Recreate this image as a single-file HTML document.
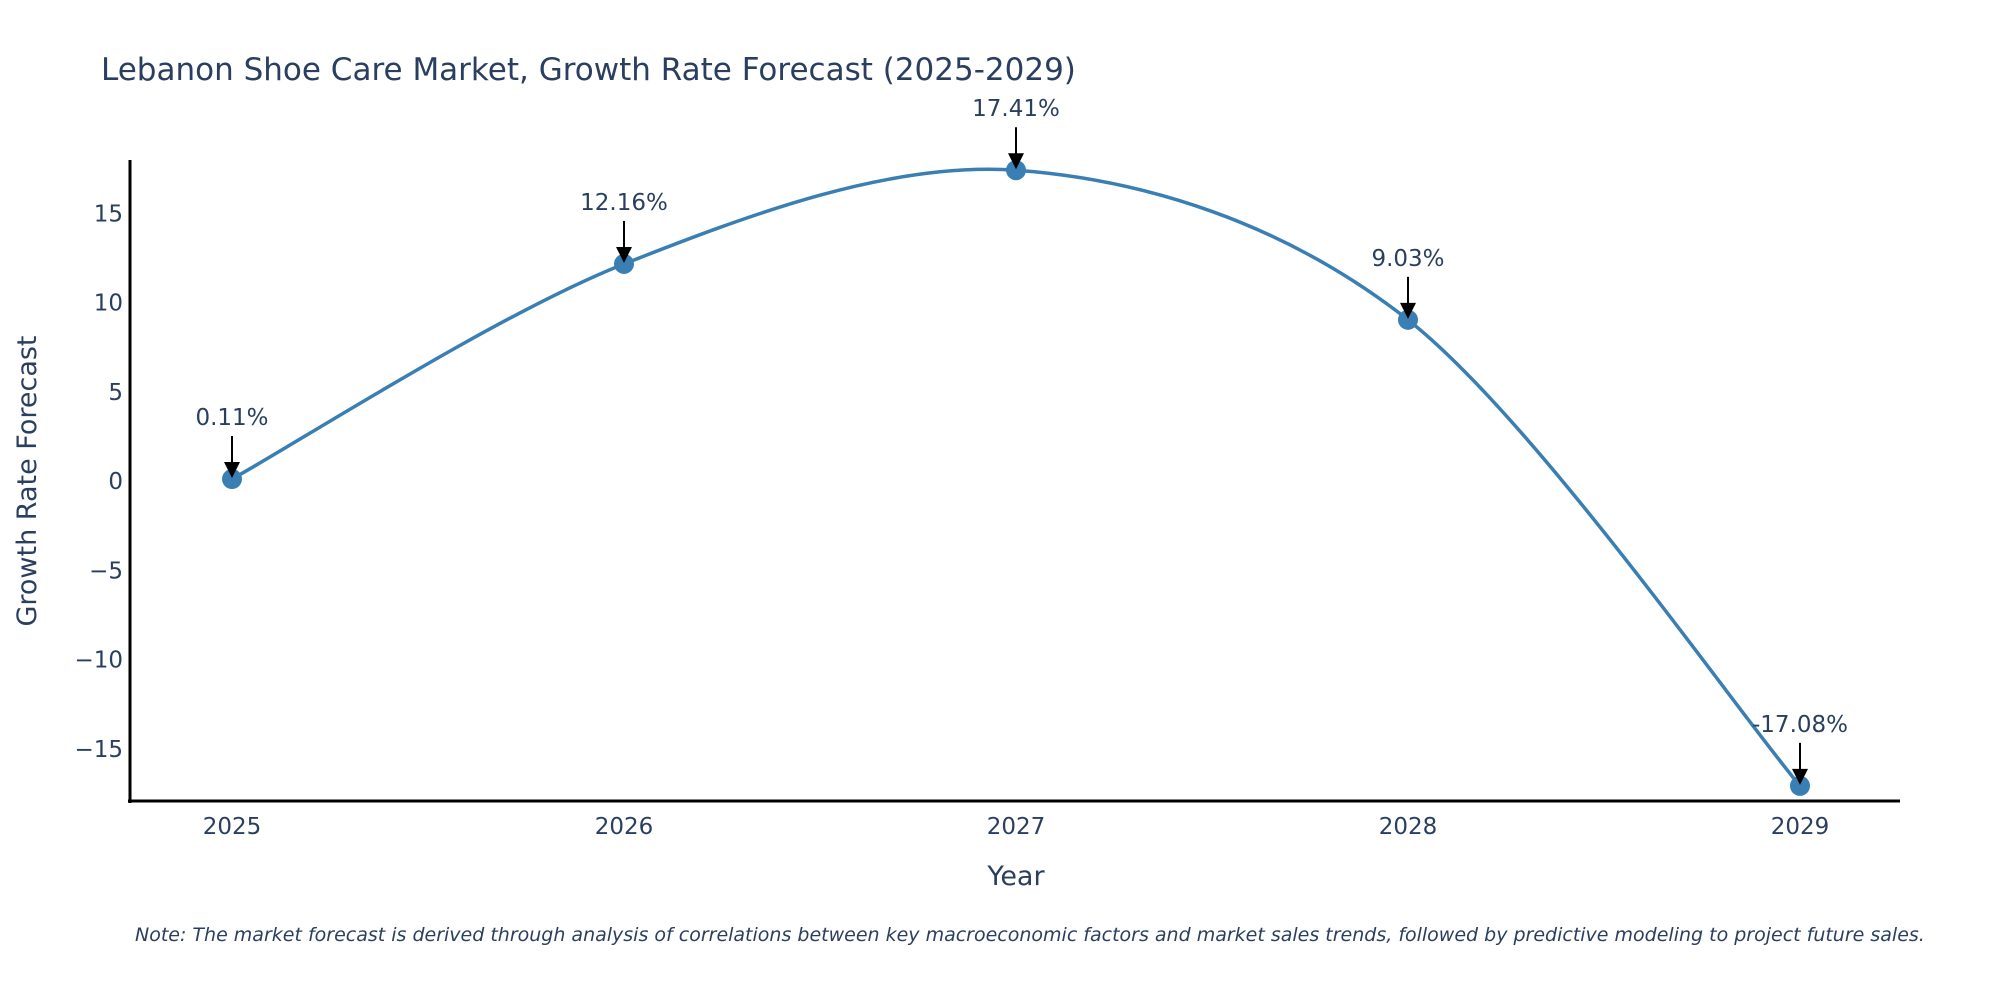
<!DOCTYPE html>
<html><head><meta charset="utf-8"><style>
body{margin:0;background:#fff;}
svg text{font-family:"DejaVu Sans","Liberation Sans",sans-serif;fill:#2a3f5f;}
</style></head><body>
<svg id="chart" width="2000" height="1000" viewBox="0 0 2000 1000" xmlns="http://www.w3.org/2000/svg">
<rect width="2000" height="1000" fill="#fff"/>
<text x="101" y="80" font-size="31">Lebanon Shoe Care Market, Growth Rate Forecast (2025-2029)</text>
<g id="yticks"></g><g id="xticks"></g>
<g id="series"></g><g id="annots"></g>
<line x1="130" y1="160" x2="130" y2="803" stroke="#000" stroke-width="3"/>
<line x1="128" y1="801" x2="1900" y2="801" stroke="#000" stroke-width="3"/>
<text transform="translate(36,481) rotate(-90)" text-anchor="middle" font-size="27">Growth Rate Forecast</text>
<text x="1016" y="885" text-anchor="middle" font-size="27">Year</text>
<text x="135" y="941" font-size="19" font-style="italic">Note: The market forecast is derived through analysis of correlations between key macroeconomic factors and market sales trends, followed by predictive modeling to project future sales.</text>
</svg>
<script>
const years = [2025, 2026, 2027, 2028, 2029];
const growth = [0.11, 12.16, 17.41, 9.03, -17.08];
const labels = ["0.11%", "12.16%", "17.41%", "9.03%", "-17.08%"];
const yTickVals = [-15, -10, -5, 0, 5, 10, 15];
const yTickText = ["\u221215", "\u221210", "\u22125", "0", "5", "10", "15"];

const NS = "http://www.w3.org/2000/svg";
function xs(v){ return 232 + (v - 2025) * 392; }
function ys(v){ return 481 - v * 17.85; }
function mk(tag, attrs, parent){ const e=document.createElementNS(NS,tag); for(const k in attrs) e.setAttribute(k,attrs[k]); parent.appendChild(e); return e; }

const yt=document.getElementById('yticks');
yTickVals.forEach((v,i)=>{
  const t=mk('text',{x:123,y:ys(v)+8,'text-anchor':'end','font-size':23},yt);
  
  
  t.textContent=yTickText[i];
});
const xt=document.getElementById('xticks');
years.forEach(y=>{
  const t=mk('text',{x:xs(y),y:834,'text-anchor':'middle','font-size':23},xt);
  
  
  t.textContent=String(y);
});

const pts=years.map((y,i)=>[xs(y),ys(growth[i])]);
let d='M'+pts[0][0]+','+pts[0][1];
const s=0.16;
for(let i=0;i<pts.length-1;i++){
  const p0=pts[Math.max(0,i-1)],p1=pts[i],p2=pts[i+1],p3=pts[Math.min(pts.length-1,i+2)];
  const c1=[p1[0]+(p2[0]-p0[0])*s, p1[1]+(p2[1]-p0[1])*s];
  const c2=[p2[0]-(p3[0]-p1[0])*s, p2[1]-(p3[1]-p1[1])*s];
  d+=' C'+c1[0]+','+c1[1]+' '+c2[0]+','+c2[1]+' '+p2[0]+','+p2[1];
}
const se=document.getElementById('series');
const line=mk('path',{d:d,fill:'none',stroke:'#3a7fb3','stroke-width':3.5},se);


pts.forEach(p=>{
  const c=mk('circle',{cx:p[0],cy:p[1],r:10,fill:'#3a7fb3'},se);
  
  
});
const an=document.getElementById('annots');
pts.forEach((p,i)=>{
  const l=mk('line',{x1:p[0],y1:p[1]-43,x2:p[0],y2:p[1]-14,stroke:'#000','stroke-width':2},an);
  
  
  const h=mk('polygon',{points:(p[0]-8)+','+(p[1]-17)+' '+(p[0]+8)+','+(p[1]-17)+' '+p[0]+','+(p[1]-1),fill:'#000'},an);
  
  
  const t=mk('text',{x:p[0],y:p[1]-54,'text-anchor':'middle','font-size':23},an);
  
  
  t.textContent=labels[i];
});
</script>
</body></html>
